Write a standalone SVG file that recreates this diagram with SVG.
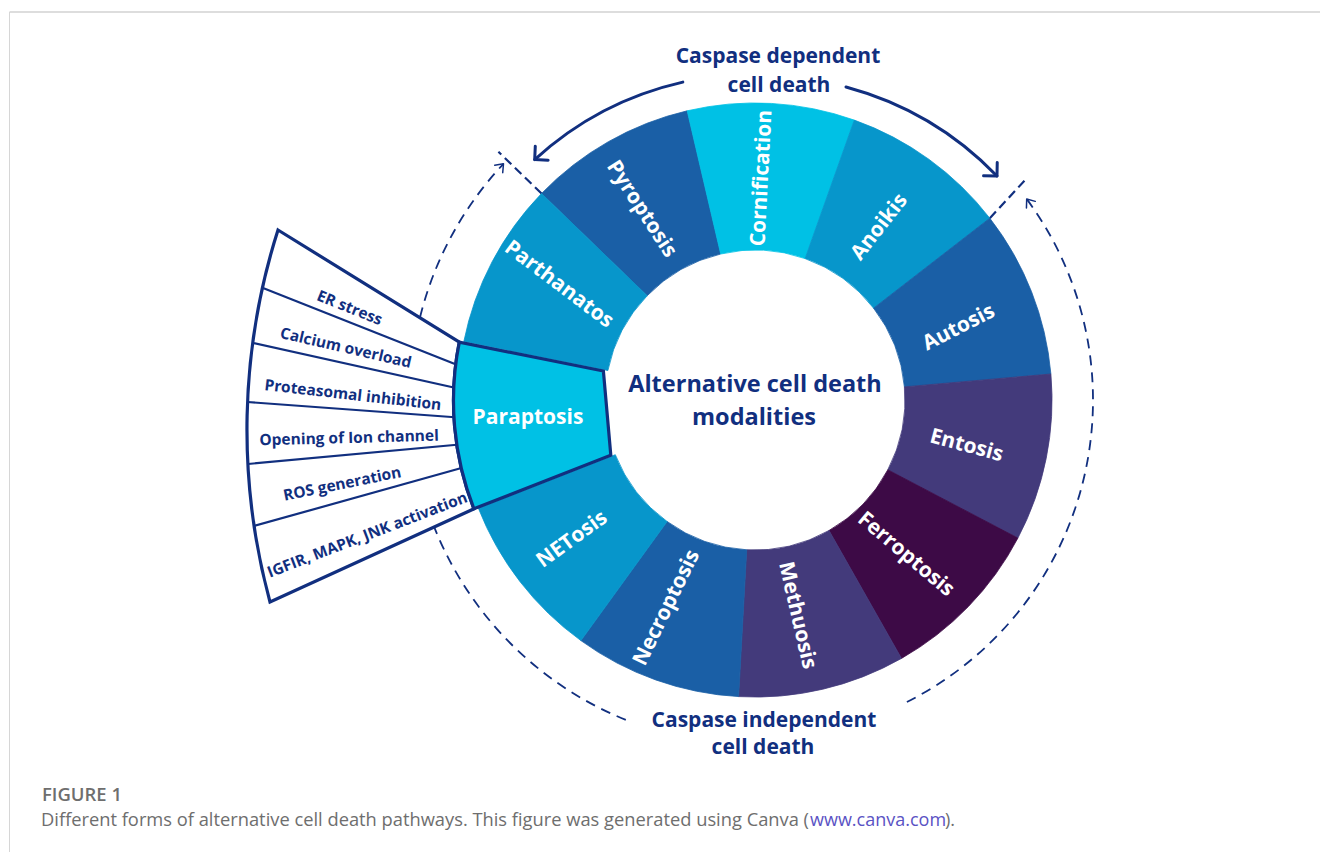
<svg xmlns="http://www.w3.org/2000/svg" width="1320" height="852" viewBox="0 0 1320 852">
<style>
.seg{stroke-width:0.8}
.cyan{fill:#00c1e5;stroke:#00c1e5}
.mid{fill:#0796cb;stroke:#0796cb}
.blue{fill:#1a5fa6;stroke:#1a5fa6}
.purp{fill:#433a7b;stroke:#433a7b}
.dark{fill:#3d0a46;stroke:#3d0a46}
.lbl{font-family:"Open Sans","Liberation Sans",sans-serif;font-weight:700;font-size:21px;fill:#ffffff;text-anchor:middle;dominant-baseline:central}
.fan{font-family:"Open Sans","Liberation Sans",sans-serif;font-weight:700;font-size:15.5px;fill:#112f7f;text-anchor:middle;dominant-baseline:central}
.title{font-family:"Open Sans","Liberation Sans",sans-serif;font-weight:700;font-size:21px;fill:#112f7f;text-anchor:middle}
.center{font-family:"Open Sans","Liberation Sans",sans-serif;font-weight:700;font-size:23.5px;fill:#112f7f;text-anchor:middle}
.navy{stroke:#112f7f;fill:none}
.solid{stroke-width:3;stroke-linecap:round}
.dash{stroke-width:1.8;stroke-dasharray:10 7}
.rdash{stroke-width:2.2;stroke-dasharray:9 5}
.div{stroke-width:2.2}
.cap{font-family:"Open Sans","Liberation Sans",sans-serif;font-size:18px;fill:#6e6e6e}
</style>
<defs>
<marker id="bigHead" markerUnits="userSpaceOnUse" markerWidth="30" markerHeight="30" refX="0" refY="0" viewBox="-15 -15 30 30" orient="auto" overflow="visible">
<path d="M-9.5,-9.5 L0,0 L-9.5,9.5" fill="none" stroke="#112f7f" stroke-width="3" stroke-linecap="round" stroke-linejoin="round" stroke-dasharray="none"/>
</marker>
<marker id="smallHead" markerUnits="userSpaceOnUse" markerWidth="20" markerHeight="20" refX="0" refY="0" viewBox="-10 -10 20 20" orient="auto" overflow="visible">
<path d="M-7,-5.5 L0,0 L-7,5.5" fill="none" stroke="#112f7f" stroke-width="1.5" stroke-linecap="round" stroke-linejoin="round" stroke-dasharray="none"/>
</marker>
</defs>
<rect x="0" y="0" width="1320" height="852" fill="#ffffff"/>
<g id="frame">
<line x1="9.5" y1="12" x2="1320" y2="12" stroke="#d2d2d2" stroke-width="1.6"/>
<line x1="9.5" y1="12" x2="9.5" y2="852" stroke="#d6d6d6" stroke-width="1"/>
</g>
<g id="connectors">
<path class="navy dash" d="M625.8,719.9 A345,345 0 0 1 503.5,163.8" marker-end="url(#smallHead)"/>
<path class="navy dash" d="M906.9,702.0 A338,338 0 0 0 1026.7,199.0" marker-end="url(#smallHead)"/>
<path class="navy solid" d="M682.8,82.1 A326,326 0 0 0 534.7,159.6" marker-end="url(#bigHead)"/>
<path class="navy solid" d="M846,87 A328,328 0 0 1 997,176" marker-end="url(#bigHead)"/>
<line class="navy rdash" x1="541.5" y1="193.5" x2="498.4" y2="151.8"/>
<line class="navy rdash" x1="989.8" y1="218.2" x2="1027" y2="178"/>
</g>
<g id="paraptosis-features">
<path d="M278,230 L459.3,342.1 A297,297 0 0 0 473.9,508.8 L270,602 A657,657 0 0 1 278,230 Z" fill="#ffffff" stroke="#112f7f" stroke-width="3.2" stroke-linejoin="miter"/>
<line class="navy div" x1="263" y1="288" x2="465" y2="368"/>
<line class="navy div" x1="253" y1="343" x2="465" y2="390"/>
<line class="navy div" x1="247.5" y1="402" x2="465" y2="418"/>
<line class="navy div" x1="248" y1="464" x2="465" y2="444"/>
<line class="navy div" x1="254" y1="526" x2="465" y2="467"/>
<text class="fan" transform="translate(350,307) rotate(22)">ER stress</text>
<text class="fan" transform="translate(346,347) rotate(13)">Calcium overload</text>
<text class="fan" transform="translate(353,394) rotate(6.5)">Proteasomal inhibition</text>
<text class="fan" transform="translate(349,437) rotate(-1.5)">Opening of Ion channel</text>
<text class="fan" transform="translate(342,483) rotate(-11.5)">ROS generation</text>
<text class="fan" transform="translate(367,534) rotate(-21)">IGFIR, MAPK, JNK activation</text>
</g>
<g id="pyroptosis"><path class="seg blue" d="M541.5,193.5 A297,297 0 0 1 687.2,110.8 L720.7,254.0 A150,150 0 0 0 647.2,295.7 Z"/><text class="lbl" transform="translate(643,208) rotate(57)">Pyroptosis</text></g>
<g id="cornification"><path class="seg cyan" d="M687.2,110.8 A297,297 0 0 1 854.3,120.1 L805.1,258.6 A150,150 0 0 0 720.7,254.0 Z"/><text class="lbl" transform="translate(760,178) rotate(-87)">Cornification</text></g>
<g id="anoikis"><path class="seg mid" d="M854.3,120.1 A297,297 0 0 1 989.8,218.2 L873.6,308.2 A150,150 0 0 0 805.1,258.6 Z"/><text class="lbl" transform="translate(878,226) rotate(-52)">Anoikis</text></g>
<g id="autosis"><path class="seg blue" d="M989.8,218.2 A297,297 0 0 1 1050.9,374.0 L904.4,386.9 A150,150 0 0 0 873.6,308.2 Z"/><text class="lbl" transform="translate(958,326) rotate(-27)">Autosis</text></g>
<g id="entosis"><path class="seg purp" d="M1050.9,374.0 A297,297 0 0 1 1017.9,538.1 L887.8,469.8 A150,150 0 0 0 904.4,386.9 Z"/><text class="lbl" transform="translate(967,444) rotate(15)">Entosis</text></g>
<g id="ferroptosis"><path class="seg dark" d="M1017.9,538.1 A297,297 0 0 1 901.5,658.4 L829.0,530.5 A150,150 0 0 0 887.8,469.8 Z"/><text class="lbl" transform="translate(907,553) rotate(40)">Ferroptosis</text></g>
<g id="methuosis"><path class="seg purp" d="M901.5,658.4 A297,297 0 0 1 738.6,696.6 L746.7,549.8 A150,150 0 0 0 829.0,530.5 Z"/><text class="lbl" transform="translate(799,615) rotate(77)">Methuosis</text></g>
<g id="necroptosis"><path class="seg blue" d="M738.6,696.6 A297,297 0 0 1 580.9,640.6 L667.1,521.5 A150,150 0 0 0 746.7,549.8 Z"/><text class="lbl" transform="translate(665,607) rotate(-64)">Necroptosis</text></g>
<g id="netosis"><path class="seg mid" d="M580.9,640.6 A297,297 0 0 1 478.4,508.3 L615.3,454.7 A150,150 0 0 0 667.1,521.5 Z"/><text class="lbl" transform="translate(571,538) rotate(-36)">NETosis</text></g>
<g id="parthanatos"><path class="seg mid" d="M463.8,341.6 A297,297 0 0 1 541.5,193.5 L647.2,295.7 A150,150 0 0 0 607.9,370.5 Z"/><text class="lbl" transform="translate(560,283) rotate(37)">Parthanatos</text></g>
<g id="paraptosis"><path d="M473.9,508.8 A297,297 0 0 1 459.3,342.1 L603.4,371.0 L610.8,455.2 Z" fill="#00c1e5" stroke="#112f7f" stroke-width="3.2" stroke-linejoin="miter"/><text class="lbl" x="528" y="416">Paraptosis</text></g>
<g id="center-title">
<text class="center" x="755" y="392">Alternative cell death</text>
<text class="center" x="754" y="425">modalities</text>
</g>
<g id="caspase-dependent">
<text class="title" x="778" y="63">Caspase dependent</text>
<text class="title" x="779" y="92">cell death</text>
</g>
<g id="caspase-independent">
<text class="title" x="764" y="727">Caspase independent</text>
<text class="title" x="763" y="754">cell death</text>
</g>
<g id="caption">
<text class="cap" x="42" y="801" font-weight="600" fill="#5e5e5e" textLength="80" lengthAdjust="spacingAndGlyphs">FIGURE 1</text>
<text class="cap" x="41" y="826" textLength="768" lengthAdjust="spacingAndGlyphs">Different forms of alternative cell death pathways. This figure was generated using Canva (</text>
<text class="cap" x="810" y="826" style="fill:#5a52c4">www.canva.com</text>
<text class="cap" x="945" y="826">).</text>
</g>
</svg>
